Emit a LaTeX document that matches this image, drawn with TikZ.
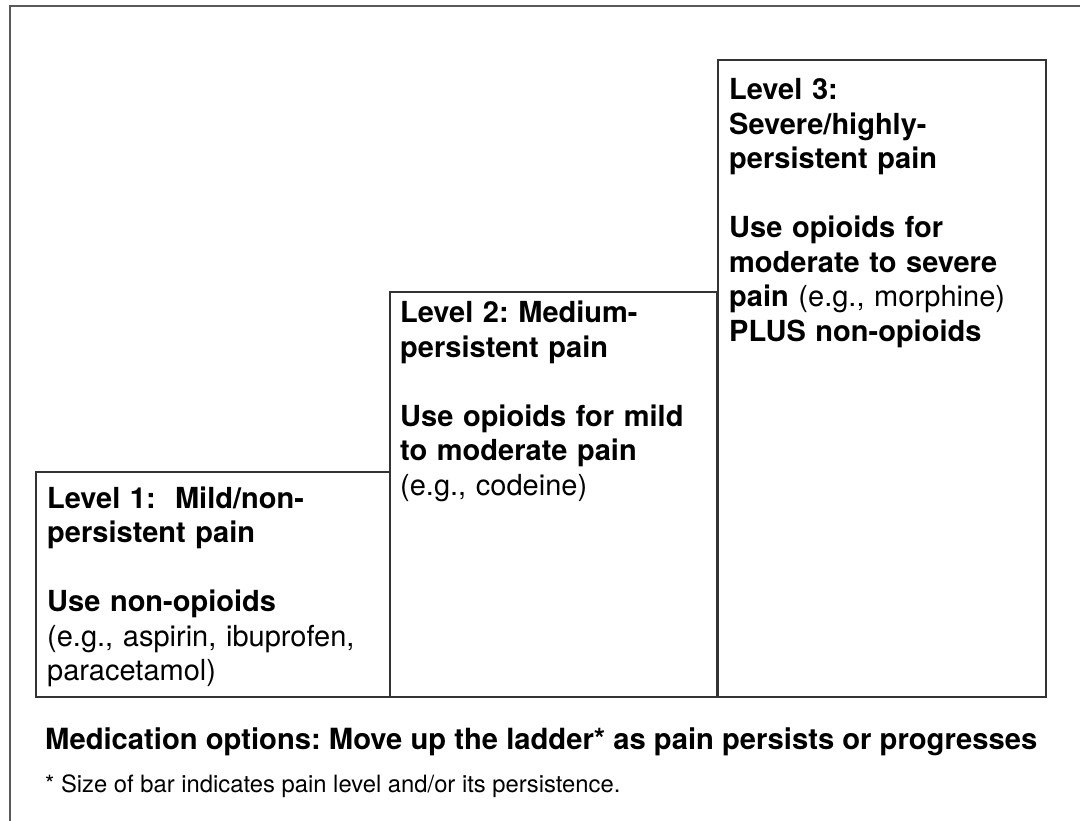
\documentclass[tikz,border=0pt]{standalone}
\usepackage{fontspec}
\setmainfont{TeX Gyre Heros}
\usetikzlibrary{positioning}
\frenchspacing

\begin{document}
\begin{tikzpicture}
[x=1pt,y=-1pt,
 bar/.style={draw=black!80,line width=1.3pt},
 frame/.style={draw=black!65,line width=2pt},
 level/.style={anchor=base west,inner sep=0pt,align=left,text width=320pt,
   font=\fontsize{29}{34.5}\selectfont},
 note/.style={anchor=base west,inner sep=0pt}]
\useasboundingbox (0,0) rectangle (1080,821);

% outer frame (open at right and bottom)
\coordinate (f1) at (10,821);
\coordinate (f2) at (10,6);
\coordinate (f3) at (1080,6);
\draw [frame] (f1) -- (f2) -- (f3);

% the three bars of the ladder
\draw [bar] (36,472) rectangle (390,697);
\draw [bar] (390,292) rectangle (717,697);
\draw [bar] (718,60) rectangle (1046,697);

\node[level] (l1) at (47,508) {\textbf{Level 1:\ \ Mild/non-}\\
\textbf{persistent pain}\\[34.5pt]
\textbf{Use non-opioids}\\
(e.g., aspirin, ibuprofen,\\
paracetamol)};

\node[level] (l2) at (400,323) {\textbf{Level 2: Medium-}\\
\textbf{persistent pain}\\[34.5pt]
\textbf{Use opioids for mild}\\
\textbf{to moderate pain}\\
(e.g., codeine)};

\node[level] (l3) at (729,100) {\textbf{Level 3:}\\
\textbf{Severe/highly-}\\
\textbf{persistent pain}\\[34.5pt]
\textbf{Use opioids for}\\
\textbf{moderate to severe}\\
\textbf{pain} (e.g., morphine)\\
\textbf{PLUS non-opioids}};

\node[note,font=\fontsize{29.2}{34}\selectfont\bfseries] (opt) at (45,749)
  {Medication options: Move up the ladder* as pain persists or progresses};
\node[note,font=\fontsize{23.8}{28}\selectfont] (fn) at (45,792)
  {* Size of bar indicates pain level and/or its persistence.};
\end{tikzpicture}
\end{document}
